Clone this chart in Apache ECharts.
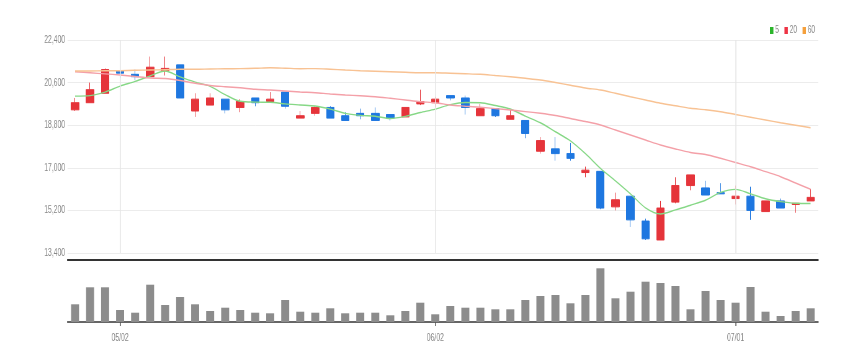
<!DOCTYPE html>
<html>
<head>
<meta charset="utf-8">
<script src="https://cdn.jsdelivr.net/npm/echarts@6/dist/echarts.min.js"></script>
<style>
html,body{margin:0;padding:0;background:#fff;overflow:hidden;width:861px;height:362px;}
#wrap{position:absolute;left:0;top:0;height:362px;transform-origin:0 0;}
</style>
</head>
<body>
<div id="wrap"></div>
<script>
// ---- data ----
const categories = ['04/27','04/28','04/29','05/02','05/03','05/04','05/06','05/09','05/10','05/11',
  '05/12','05/13','05/16','05/17','05/18','05/19','05/20','05/23','05/24','05/25',
  '05/26','05/27','05/30','05/31','06/02','06/03','06/07','06/08','06/09','06/10',
  '06/13','06/14','06/15','06/16','06/17','06/20','06/21','06/22','06/23','06/24',
  '06/27','06/28','06/29','06/30','07/01','07/04','07/05','07/06','07/07','07/08'];
const tickLabels = ['05/02','06/02','07/01'];
const opens  = [19450,19750,20150,21100,20950,20850,21100,21350,19400,19650,
  19900,19550,19950,19800,20200,19100,19300,19550,19200,19300,
  19300,19250,19150,19700,19750,20050,19950,19200,19500,19050,
  19000,17700,17800,17600,16800,16850,15350,15800,14750,13950,
  15550,16250,16150,15950,15700,15800,15150,15600,15450,15600];
const closes = [19750,20300,21150,21000,20850,21250,21200,19950,19900,19950,
  19450,19800,19750,19900,19600,19200,19550,19100,19000,19200,
  19000,19100,19550,19800,19900,19950,19550,19500,19200,19200,
  18450,18150,17600,17400,16900,15300,15650,14800,14000,15300,
  16250,16700,15850,15900,15800,15200,15600,15300,15500,15750];
const lows   = [19400,19750,20150,20800,20700,20850,20900,19950,19150,19650,
  19300,19350,19600,19800,19500,19100,19200,19100,19000,19050,
  19000,19000,19150,19650,19550,19850,19250,19200,19150,19050,
  18250,17600,17300,17300,16600,15250,15200,14500,13950,13950,
  15500,16050,15850,15900,15450,14800,15150,15300,15100,15600];
const highs  = [19950,20600,21200,21100,21150,21700,21700,21350,20150,20150,
  19900,19900,19950,20200,20200,19400,19600,19600,19350,19500,
  19550,19250,19550,20300,20000,20050,20050,19700,19500,19450,
  19000,18300,18300,18050,17050,16850,15950,15800,14850,15600,
  16600,16700,16450,16350,16250,16200,15600,15700,15500,16100];
const volumes = [177000,347000,347000,120000,93000,373000,170000,250000,177000,110000,
  143000,120000,93000,87000,220000,103000,93000,137000,87000,93000,
  93000,67000,110000,193000,77000,160000,143000,143000,127000,127000,
  220000,260000,270000,187000,270000,537000,237000,303000,403000,390000,
  360000,127000,310000,220000,193000,350000,103000,60000,110000,137000];
const ma5  = [20030,20050,20200,20450,20650,20880,21090,20840,20620,20440,
  20090,19810,19775,19770,19700,19655,19610,19480,19300,19217,
  19180,19085,19173,19334,19480,19668,19758,19749,19631,19485,
  19184,18903,18522,18140,17600,16980,16450,15900,15310,15050,
  15220,15420,15630,15960,16090,15900,15690,15570,15500,15490];
const ma20 = [21061,21014,20968,20921,20858,20794,20773,20689,20571,20478,
  20427,20380,20317,20287,20245,20203,20173,20118,20076,20042,
  20004,19937,19865,19793,19751,19654,19603,19557,19502,19442,
  19375,19303,19210,19083,18957,18809,18597,18386,18175,17964,
  17795,17647,17562,17402,17224,17047,16836,16624,16358,16092];
const ma60 = [21090,21090,21099,21103,21120,21132,21145,21162,21162,21175,
  21183,21192,21204,21225,21209,21187,21192,21166,21132,21103,
  21082,21056,21035,21018,21018,20997,20976,20951,20900,20849,
  20782,20710,20604,20490,20372,20287,20148,20004,19865,19726,
  19620,19514,19455,19371,19252,19134,19020,18906,18800,18695];
const maNames = ['5','20','60'];

// ---- layout (rendered wide, then squeezed horizontally) ----
const S = 0.62;
const W = 861 / S;
const wrap = document.getElementById('wrap');
wrap.style.width = W + 'px';
wrap.style.transform = 'scaleX(' + S + ')';

const chart = echarts.init(wrap, null, {width: W, height: 362, renderer: 'canvas'});
const FONT = 'Liberation Sans, Arial, sans-serif';
const showTick = (i, v) => tickLabels.indexOf(v) >= 0;
const candleData = opens.map((o, i) => [o, closes[i], lows[i], highs[i]]);

chart.setOption({
  animation: false,
  backgroundColor: '#fff',
  textStyle: {fontFamily: FONT},
  legend: {
    data: maNames, right: 70, top: 20, icon: 'rect', itemWidth: 5.5, itemHeight: 7, itemGap: 9,
    textStyle: {color: '#888', fontSize: 10.5, fontFamily: FONT, padding: [0,0,0,-2]}
  },
  grid: [
    {left: 67.5 / S, width: 750 / S, top: 40, height: 213},
    {left: 67.5 / S, width: 750 / S, top: 262, height: 60}
  ],
  xAxis: [
    {type: 'category', gridIndex: 0, data: categories, boundaryGap: true, offset: 7,
     axisLine: {show: true, lineStyle: {color: '#333', width: 2}},
     axisTick: {show: false}, axisLabel: {show: false}, splitLine: {show: false}},
    {type: 'category', gridIndex: 1, data: categories, boundaryGap: true,
     axisLine: {show: true, lineStyle: {color: '#666', width: 2}},
     axisTick: {show: true, alignWithLabel: true, interval: showTick, length: 4, lineStyle: {color: '#555', width: 1.5}},
     axisLabel: {interval: showTick, color: '#888', fontSize: 11, margin: 10, fontFamily: FONT},
     splitLine: {show: false}}
  ],
  yAxis: [
    {type: 'value', gridIndex: 0, min: 13400, max: 22400, interval: 1800,
     axisLine: {show: false}, axisTick: {show: false},
     axisLabel: {color: '#888', fontSize: 11, margin: 4, fontFamily: FONT,
       formatter: v => v.toLocaleString('en-US')},
     splitLine: {lineStyle: {color: '#ececec', width: 1}}},
    {type: 'value', gridIndex: 1, min: 0, max: 600000, show: false, splitLine: {show: false}}
  ],
  series: [
    {type: 'candlestick', name: 'price', xAxisIndex: 0, yAxisIndex: 0, data: candleData,
     barWidth: 8 / S,
     itemStyle: {color: '#e5343a', color0: '#1e77e0', borderColor: '#e5343a', borderColor0: '#1e77e0', borderWidth: 1},
     markLine: {silent: true, symbol: 'none', label: {show: false},
       lineStyle: {color: '#e6e6e6', type: 'solid', width: 1.6},
       data: tickLabels.map(d => ({xAxis: d}))}},
    {type: 'line', name: '5', xAxisIndex: 0, yAxisIndex: 0, data: ma5, smooth: 0.3, showSymbol: false,
     itemStyle: {color: '#2bb52b'}, lineStyle: {color: '#86d886', width: 1.4}},
    {type: 'line', name: '20', xAxisIndex: 0, yAxisIndex: 0, data: ma20, smooth: 0.3, showSymbol: false,
     itemStyle: {color: '#ee3344'}, lineStyle: {color: '#f4a0a8', width: 1.4}},
    {type: 'line', name: '60', xAxisIndex: 0, yAxisIndex: 0, data: ma60, smooth: 0.3, showSymbol: false,
     itemStyle: {color: '#f5a03c'}, lineStyle: {color: '#f8c293', width: 1.4}},
    {type: 'bar', name: 'volume', xAxisIndex: 1, yAxisIndex: 1, data: volumes, barWidth: 8 / S,
     itemStyle: {color: '#8c8c8c'}}
  ]
});
</script>
</body>
</html>
